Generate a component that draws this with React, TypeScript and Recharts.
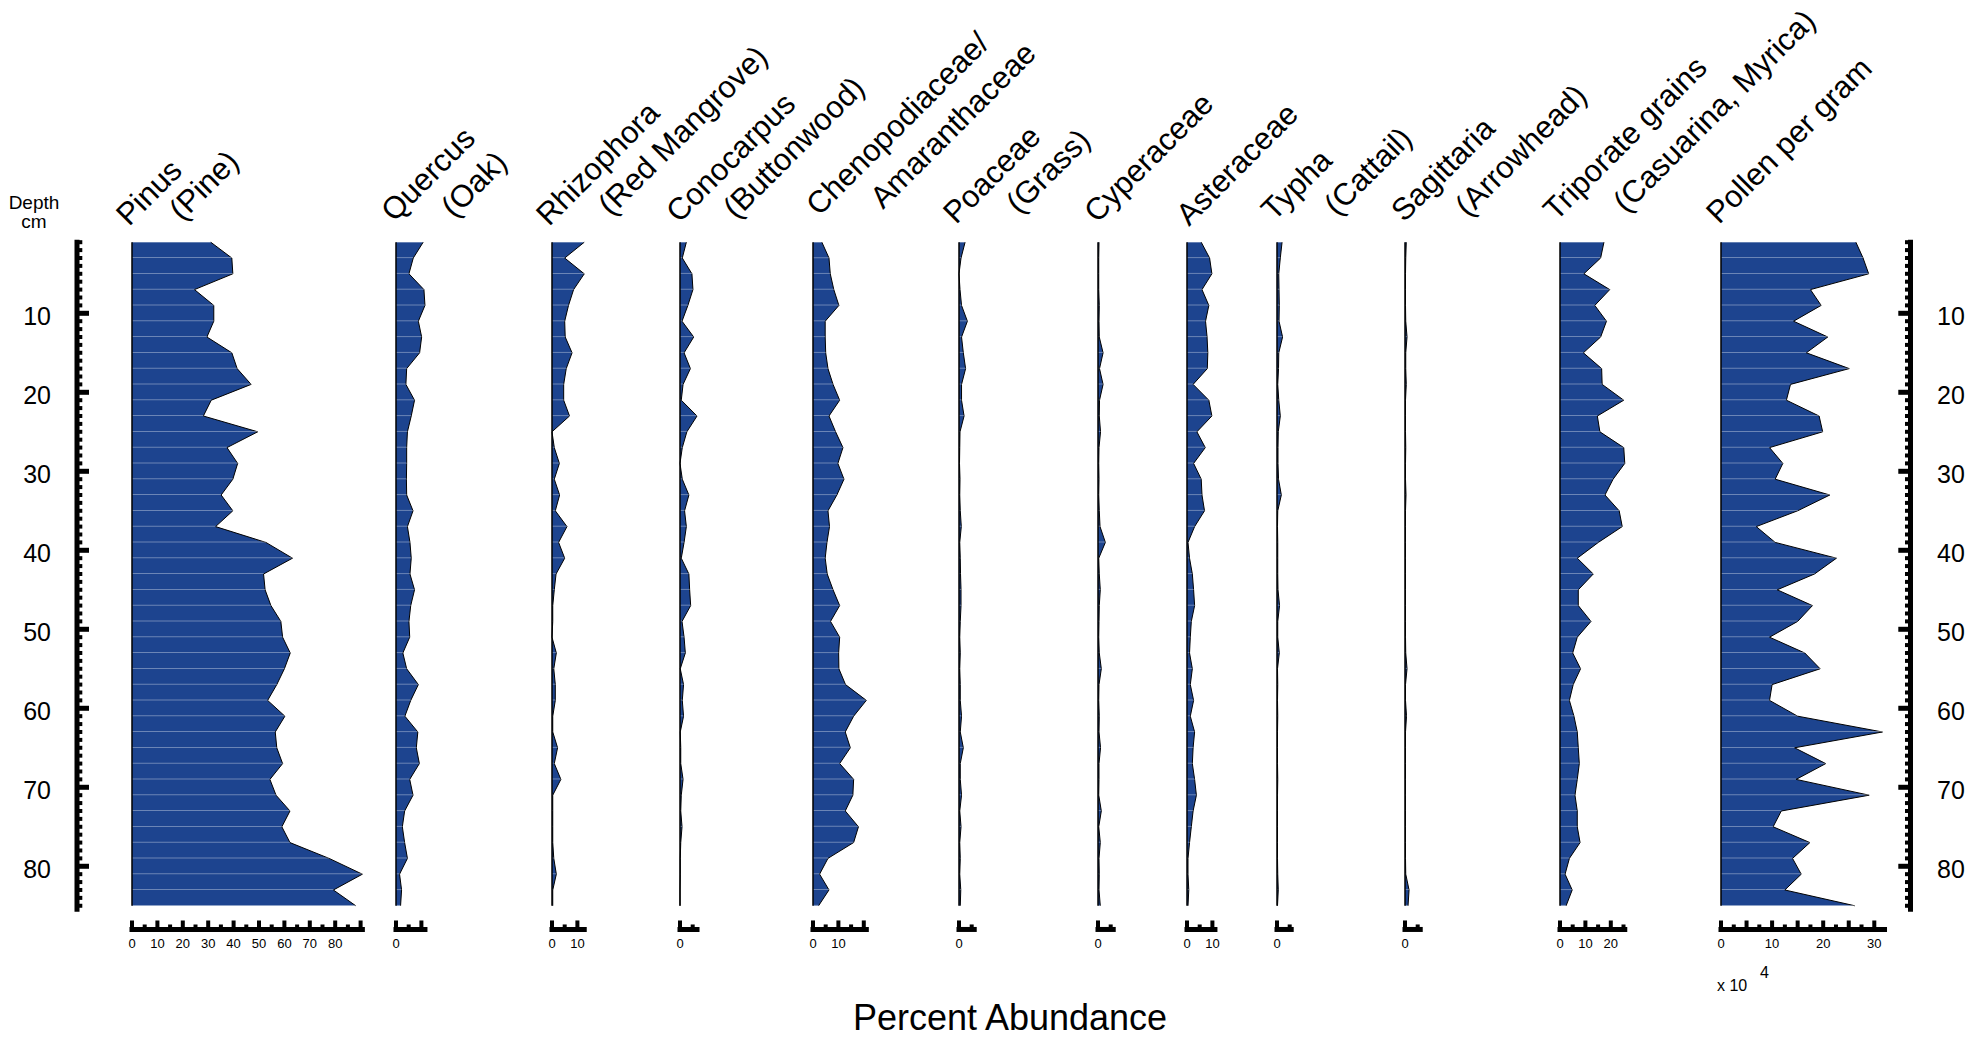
import React from "react";
import { Area, Bar, ComposedChart, Line, ReferenceLine, XAxis, YAxis } from "recharts";

const FONT = "'Liberation Sans', Arial, Helvetica, sans-serif";
const FILL = "#1d448f";

// sample depths (cm)
const depths = [1, 3, 5, 7, 9, 11, 13, 15, 17, 19, 21, 23, 25, 27, 29, 31, 33, 35, 37, 39, 41, 43, 45, 47, 49, 51, 53, 55, 57, 59, 61, 63, 65, 67, 69, 71, 73, 75, 77, 79, 81, 83, 85];

// percent abundance per taxon
const pinus = [31, 39.3, 39.7, 24.6, 32.2, 32.2, 29.5, 39.3, 41.4, 46.9, 31.2, 28.1, 49.5, 37.4, 41.6, 39.7, 35.1, 39.7, 32.9, 52.7, 63.2, 51.8, 52.4, 54.7, 58.6, 59.3, 62.3, 60, 57, 53.4, 60.2, 56.4, 57, 59.3, 54.3, 56.7, 62.2, 59, 62.2, 77.6, 90.7, 79.3, 88.1];
const quercus = [10.7, 6.8, 5.1, 11, 11.4, 8.8, 10.1, 9.3, 4.2, 3.9, 7.3, 6, 4.5, 4.2, 4.2, 4.1, 4.2, 6.7, 4.5, 5.5, 6, 5.5, 7.3, 5.8, 5.1, 5.4, 2.7, 4.2, 8.8, 5.8, 3.5, 8.6, 8, 9.2, 5.4, 6.7, 3.4, 2.5, 3.4, 4.5, 1.4, 2.2, 1.8];
const rhizophora = [12.7, 5, 12.7, 8.5, 6.5, 5, 5.2, 7.9, 5.6, 4.6, 4.6, 6.9, 0, 0.9, 2.9, 0.9, 3, 1.3, 5.9, 2.6, 5, 1.6, 0.9, 0.3, 0.3, 0, 1.7, 0.7, 1.3, 1.3, 0.3, 0.3, 2.2, 0.9, 3.5, 0.3, 0.3, 0.3, 0.3, 0.7, 1.7, 0.3, 0.3];
const conocarpus = [2.5, 0.9, 4.7, 5.1, 3.1, 0.8, 5.4, 1.6, 4.1, 1.2, 0.5, 6.7, 2.7, 0.9, 0, 0.9, 3.5, 1.8, 2.5, 1.6, 0.5, 3.5, 3.8, 4.2, 0.8, 1.6, 2.1, 0.1, 1.4, 0.9, 1.4, 0.1, 0.3, 0.3, 1.2, 0.5, 0.3, 0.8, 0.3, 0.1, 0.1, 0, 0];
const cheno = [3.5, 6.3, 6.8, 8.2, 10.2, 4.8, 4.8, 5, 5.9, 7.9, 10.5, 6.3, 8.9, 11.8, 9.8, 12.2, 9.4, 5.9, 6.5, 5.5, 4.8, 5.6, 7.9, 10.5, 6.9, 10.5, 10.1, 10.2, 12.8, 21, 16, 12.7, 14.7, 10.5, 16, 15.7, 12.7, 17.9, 16, 5.9, 2.6, 6.3, 2.2];
const poaceae = [2.4, 0.8, 0, 0.4, 1, 3.3, 1, 1.7, 2.6, 1, 1, 2, 0.4, 0.3, 0.2, 0.4, 0.3, 0.5, 0.9, 0.3, 0.5, 0.6, 0.8, 0.8, 0.5, 0.3, 0.5, 0.3, 0.5, 0.5, 1, 0.5, 1.7, 0.5, 0.5, 1, 0.3, 0.8, 0.3, 0.5, 0.3, 0.7, 0.5];
const cyperaceae = [0.4, 0.3, 0.3, 0.3, 0.5, 0.4, 0.5, 2, 0.6, 2, 0.6, 0.5, 1, 0.4, 0.3, 0.4, 0.3, 0.5, 0.8, 2.9, 0.3, 0.5, 0.9, 0.5, 0.4, 0.3, 0.5, 1.3, 0.4, 0.3, 0.5, 0.4, 1, 0.4, 0.4, 0.3, 1.3, 0.3, 0.9, 0.4, 0.5, 0.4, 0.9];
const asteraceae = [5.6, 8.9, 9.8, 5.9, 8.6, 7.3, 7.9, 8.2, 8, 2.4, 8.6, 9.8, 3.9, 7.2, 2.6, 5.6, 5.9, 6.9, 3, 0.4, 1, 2.1, 2.6, 3, 1.7, 1.3, 1, 2.1, 1.3, 2.6, 1.3, 3, 2.4, 2.1, 3, 3.7, 2.4, 1.7, 1, 0.4, 0.4, 0.7, 0.4];
const typha = [2, 1.3, 0.7, 0.8, 0.9, 0.8, 2.2, 0.7, 0.6, 0.3, 0.7, 1.3, 0.5, 0.4, 0.4, 0.6, 1.7, 0.3, 0.2, 0.3, 0.3, 0.3, 0.4, 1, 0.3, 0.3, 0.9, 0.2, 0.3, 0.2, 0.3, 0.2, 0.2, 0.2, 0.3, 0.2, 0.2, 0.2, 0.2, 0.2, 0.3, 0.5, 0.2];
const sagittaria = [0.5, 0.3, 0.2, 0.2, 0.2, 0.3, 0.8, 0.3, 0.3, 0.5, 0.2, 0.2, 0.2, 0.3, 0.2, 0.2, 0.4, 0.2, 0.2, 0.2, 0.2, 0.2, 0.2, 0.2, 0.2, 0.2, 0.3, 0.8, 0.2, 0.2, 0.6, 0.2, 0.2, 0.2, 0.2, 0.2, 0.2, 0.2, 0.2, 0.2, 0.3, 1.6, 1.2];
const triporate = [17.3, 16, 9.4, 19.6, 13.7, 18.3, 16, 9.2, 16.4, 16.6, 25.1, 14.7, 15.7, 25.1, 25.5, 20.9, 17.7, 23.3, 24.5, 15.1, 6.8, 13.1, 7.2, 7.2, 12.2, 6.8, 5, 8.1, 5.2, 3.7, 5.5, 6.8, 7.2, 7.6, 6.8, 5.9, 6.8, 6.8, 7.9, 3.7, 2, 4.8, 2.4];
// pollen concentration, x 10^4 grains per gram
const pollen = [26.4, 27.8, 28.9, 17.5, 19.6, 14.2, 20.9, 16.7, 25.1, 13.6, 12.8, 19.2, 19.9, 9.5, 12.1, 10.6, 21.3, 15, 6.9, 10.6, 22.6, 18.3, 11, 17.9, 15, 9.5, 16.4, 19.4, 10, 9.5, 15, 31.6, 14.4, 20.5, 14.7, 29, 11.8, 10.2, 17.4, 14, 15.7, 12.5, 26.2];

// column titles
const titles = [
  ["Pinus", "(Pine)"],
  ["Quercus", "(Oak)"],
  ["Rhizophora", "(Red Mangrove)"],
  ["Conocarpus", "(Buttonwood)"],
  ["Chenopodiaceae/", "Amaranthaceae"],
  ["Poaceae", "(Grass)"],
  ["Cyperaceae"],
  ["Asteraceae"],
  ["Typha", "(Cattail)"],
  ["Sagittaria", "(Arrowhead)"],
  ["Triporate grains", "(Casuarina, Myrica)"],
  ["Pollen per gram"],
];

// labelled ticks of each bottom scale
const pinusLabels = [0, 10, 20, 30, 40, 50, 60, 70, 80];
const zeroOnly = [0];
const zeroTen = [0, 10];
const zeroTenTwenty = [0, 10, 20];
const pollenLabels = [0, 10, 20, 30];
const depthLabels = [10, 20, 30, 40, 50, 60, 70, 80];

const rows = depths.map((d, i) => ({
  depth: d,
  pinus: pinus[i],
  quercus: quercus[i],
  rhizophora: rhizophora[i],
  conocarpus: conocarpus[i],
  cheno: cheno[i],
  poaceae: poaceae[i],
  cyperaceae: cyperaceae[i],
  asteraceae: asteraceae[i],
  typha: typha[i],
  sagittaria: sagittaria[i],
  triporate: triporate[i],
  pollen: pollen[i],
}));

const PCT = 2.54; // px per percent
const panels = [
  { key: "pinus", x0: 132.3, max: 90.7, scale: PCT, step: 10, labels: pinusLabels },
  { key: "quercus", x0: 395.5, max: 11.4, scale: PCT, step: 10, labels: zeroOnly },
  { key: "rhizophora", x0: 551.7, max: 12.7, scale: PCT, step: 10, labels: zeroTen },
  { key: "conocarpus", x0: 680.3, max: 6.7, scale: PCT, step: 10, labels: zeroOnly },
  { key: "cheno", x0: 813.3, max: 21, scale: PCT, step: 10, labels: zeroTen },
  { key: "poaceae", x0: 959, max: 6, scale: PCT, step: 10, labels: zeroOnly },
  { key: "cyperaceae", x0: 1098.3, max: 6, scale: PCT, step: 10, labels: zeroOnly },
  { key: "asteraceae", x0: 1187.3, max: 11, scale: PCT, step: 10, labels: zeroTen },
  { key: "typha", x0: 1276.7, max: 5.6, scale: PCT, step: 10, labels: zeroOnly },
  { key: "sagittaria", x0: 1405.3, max: 6, scale: PCT, step: 10, labels: zeroOnly },
  { key: "triporate", x0: 1560, max: 25.5, scale: PCT, step: 10, labels: zeroTenTwenty },
  { key: "pollen", x0: 1720.7, max: 32, scale: 5.11, step: 5, labels: pollenLabels },
];

// title anchor points (baseline start of each line)
const titlePos = [
  [[129, 227], [182, 222]],
  [[394, 223], [454, 219]],
  [[549, 227], [611, 217]],
  [[679, 224], [736, 220]],
  [[819, 217], [883, 210]],
  [[956, 225], [1019, 215]],
  [[1097, 224]],
  [[1189, 227]],
  [[1274, 222], [1337, 217]],
  [[1404, 223], [1468, 218]],
  [[1556, 222], [1626, 214]],
  [[1719, 225]],
];

const isMult = (v: number, s: number) => Math.abs(v / s - Math.round(v / s)) < 1e-6;

const BottomTick = ({ x, y, payload, step, labels }: any) => {
  const v = payload.value;
  const h = isMult(v, step) ? 9 : 5;
  return (
    <g>
      <rect x={x - 2} y={y - h} width={4} height={h} fill="#000" />
      {labels.includes(v) && (
        <text x={x} y={y + 18.5} textAnchor="middle" fontSize={13} fontFamily={FONT} fill="#000">
          {v}
        </text>
      )}
    </g>
  );
};

function Panel({ p }: any) {
  const M = 20;
  const plotW = p.max * p.scale;
  const ticks: number[] = [];
  for (let v = 0; v <= p.max + 1e-6; v += p.step / 2) ticks.push(Math.round(v * 100) / 100);
  return (
    <div style={{ position: "absolute", left: p.x0 - M, top: 0 }}>
      <ComposedChart
        width={plotW + 2 * M}
        height={1000}
        data={rows}
        layout="vertical"
        margin={{ top: 242.2, right: M, bottom: 0, left: M }}
      >
        <XAxis
          type="number"
          domain={[0, p.max]}
          ticks={ticks}
          interval={0}
          height={70.5}
          axisLine={{ stroke: "#000", strokeWidth: 5, strokeLinecap: "square" }}
          tickLine={false}
          tickSize={0}
          tickMargin={0}
          tick={(props: any) => <BottomTick {...props} step={p.step} labels={p.labels} />}
        />
        <YAxis type="number" dataKey="depth" domain={[1, 88]} hide width={0} />
        <Area
          type="linear"
          dataKey={p.key}
          fill={FILL}
          fillOpacity={1}
          stroke="#000"
          strokeWidth={1}
          isAnimationActive={false}
        />
        <Bar dataKey={p.key} barSize={1} fill="#fff" fillOpacity={0.35} isAnimationActive={false} />
        <ReferenceLine
          segment={[
            { x: 0, y: depths[0] },
            { x: 0, y: depths[depths.length - 1] },
          ]}
          stroke="#000"
          strokeWidth={1.5}
        />
      </ComposedChart>
    </div>
  );
}

const depthTicks: number[] = [];
for (let d = 1; d <= 85; d++) depthTicks.push(d);

const LeftTick = ({ x, y, payload }: any) => {
  const major = depthLabels.includes(payload.value);
  return (
    <g>
      {major ? (
        <rect x={x} y={y - 2.5} width={12} height={5} fill="#000" />
      ) : (
        <rect x={x} y={y - 2} width={5.3} height={4} fill="#000" />
      )}
      {major && (
        <text x={x - 26} y={y + 12} textAnchor="end" fontSize={25} fontFamily={FONT} fill="#000">
          {payload.value}
        </text>
      )}
    </g>
  );
};

const RightTick = ({ x, y, payload }: any) => {
  const major = depthLabels.includes(payload.value);
  return (
    <g>
      {major ? (
        <rect x={x - 12.2} y={y - 2.5} width={12.2} height={5} fill="#000" />
      ) : (
        <rect x={x - 5.5} y={y - 2} width={5.5} height={4} fill="#000" />
      )}
      {major && (
        <text x={x + 26.5} y={y + 12} textAnchor="start" fontSize={25} fontFamily={FONT} fill="#000">
          {payload.value}
        </text>
      )}
    </g>
  );
};

function DepthAxis({ side }: { side: "left" | "right" }) {
  const left = side === "left" ? 0 : 1880;
  const width = side === "left" ? 100 : 106;
  return (
    <div style={{ position: "absolute", left, top: 0 }}>
      <ComposedChart
        width={width}
        height={1000}
        data={rows}
        layout="vertical"
        margin={{ top: 239.83, right: 0, bottom: 88.3, left: 0 }}
      >
        <XAxis type="number" hide />
        <YAxis
          type="number"
          dataKey="depth"
          orientation={side}
          domain={[0.7, 85.75]}
          width={side === "left" ? 77 : 75.5}
          ticks={depthTicks}
          interval={0}
          axisLine={{ stroke: "#000", strokeWidth: 5 }}
          tickLine={false}
          tickSize={0}
          tickMargin={0}
          tick={side === "left" ? LeftTick : RightTick}
        />
        <Line dataKey="pinus" stroke="none" dot={false} isAnimationActive={false} />
      </ComposedChart>
    </div>
  );
}

export default function App() {
  return (
    <div
      style={{
        position: "absolute",
        left: 0,
        top: 0,
        width: 1986,
        height: 1037,
        background: "#fff",
        fontFamily: FONT,
      }}
    >
      <DepthAxis side="left" />
      {panels.map((p) => (
        <Panel key={p.key} p={p} />
      ))}
      <DepthAxis side="right" />
      <svg
        width={1986}
        height={1037}
        style={{ position: "absolute", left: 0, top: 0, pointerEvents: "none" }}
      >
        <text x={34} y={209} textAnchor="middle" fontSize={19} fontFamily={FONT} fill="#000">
          Depth
        </text>
        <text x={34} y={228} textAnchor="middle" fontSize={19} fontFamily={FONT} fill="#000">
          cm
        </text>
        {titles.map((lines, i) =>
          lines.map((t, j) => {
            const [tx, ty] = titlePos[i][j];
            return (
              <text
                key={`${i}-${j}`}
                x={tx}
                y={ty}
                fontSize={31}
                fontFamily={FONT}
                fill="#000"
                transform={`rotate(-45 ${tx} ${ty})`}
              >
                {t}
              </text>
            );
          })
        )}
        <text x={1010} y={1030} textAnchor="middle" fontSize={36} fontFamily={FONT} fill="#000">
          Percent Abundance
        </text>
        <text x={1717} y={991} fontSize={16} fontFamily={FONT} fill="#000">
          x 10
        </text>
        <text x={1760} y={978} fontSize={16} fontFamily={FONT} fill="#000">
          4
        </text>
      </svg>
    </div>
  );
}
